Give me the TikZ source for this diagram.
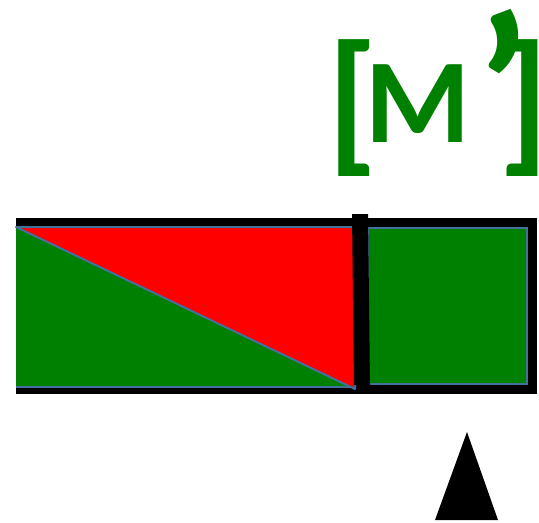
\documentclass[tikz,border=0pt]{standalone}
\usepackage{fontspec}
\setmainfont{Carlito}
\usetikzlibrary{positioning}
\definecolor{leaf}{HTML}{008000}
\definecolor{flag}{HTML}{FF0000}
\definecolor{edge}{HTML}{41719C}
\tikzset{
  glyph/.style={text=leaf,inner sep=0pt,font=\bfseries\fontsize{90}{90}\selectfont},
  brack/.style={glyph,font=\bfseries\fontsize{117}{117}\selectfont},
  tick/.style={glyph,font=\bfseries\fontsize{160}{160}\selectfont},
  frame/.style={draw=black,line width=6.75pt},
  rim/.style={draw=edge,line width=1.5pt},
  cell/.style={rim,fill=leaf},
  wedge/.style={rim,fill=flag,line join=round},
}
\begin{document}
\begin{tikzpicture}[x=0.75pt,y=-0.75pt]
\useasboundingbox (0,0) rectangle (539,522);

\draw[frame] (16,222) -- (532,222) -- (532,389) -- (16,389);
\fill[leaf] (16,227) rectangle (355,387);
\draw[rim] (16,227) -- (355,227);
\draw[rim] (16,387) -- (355,387);
\filldraw[wedge] (16,227) -- (355,227) -- (355,389) -- cycle;
\filldraw[cell] (368,228) rectangle (527,384);
\fill (352,214) -- (368,214) -- (370,385) -- (354,385) -- cycle;
\fill (467,432) -- (498,520) -- (435,520) -- cycle;

\node[brack,anchor=north] (lbrack) at (353,39) {[};
\node[glyph,anchor=base] (mletter) at (417.5,142) {M};
\node[tick,anchor=north] (prime) at (503,9) {’};
\node[brack,anchor=north] (rbrack) at (524,39) {]};

\end{tikzpicture}
\end{document}
